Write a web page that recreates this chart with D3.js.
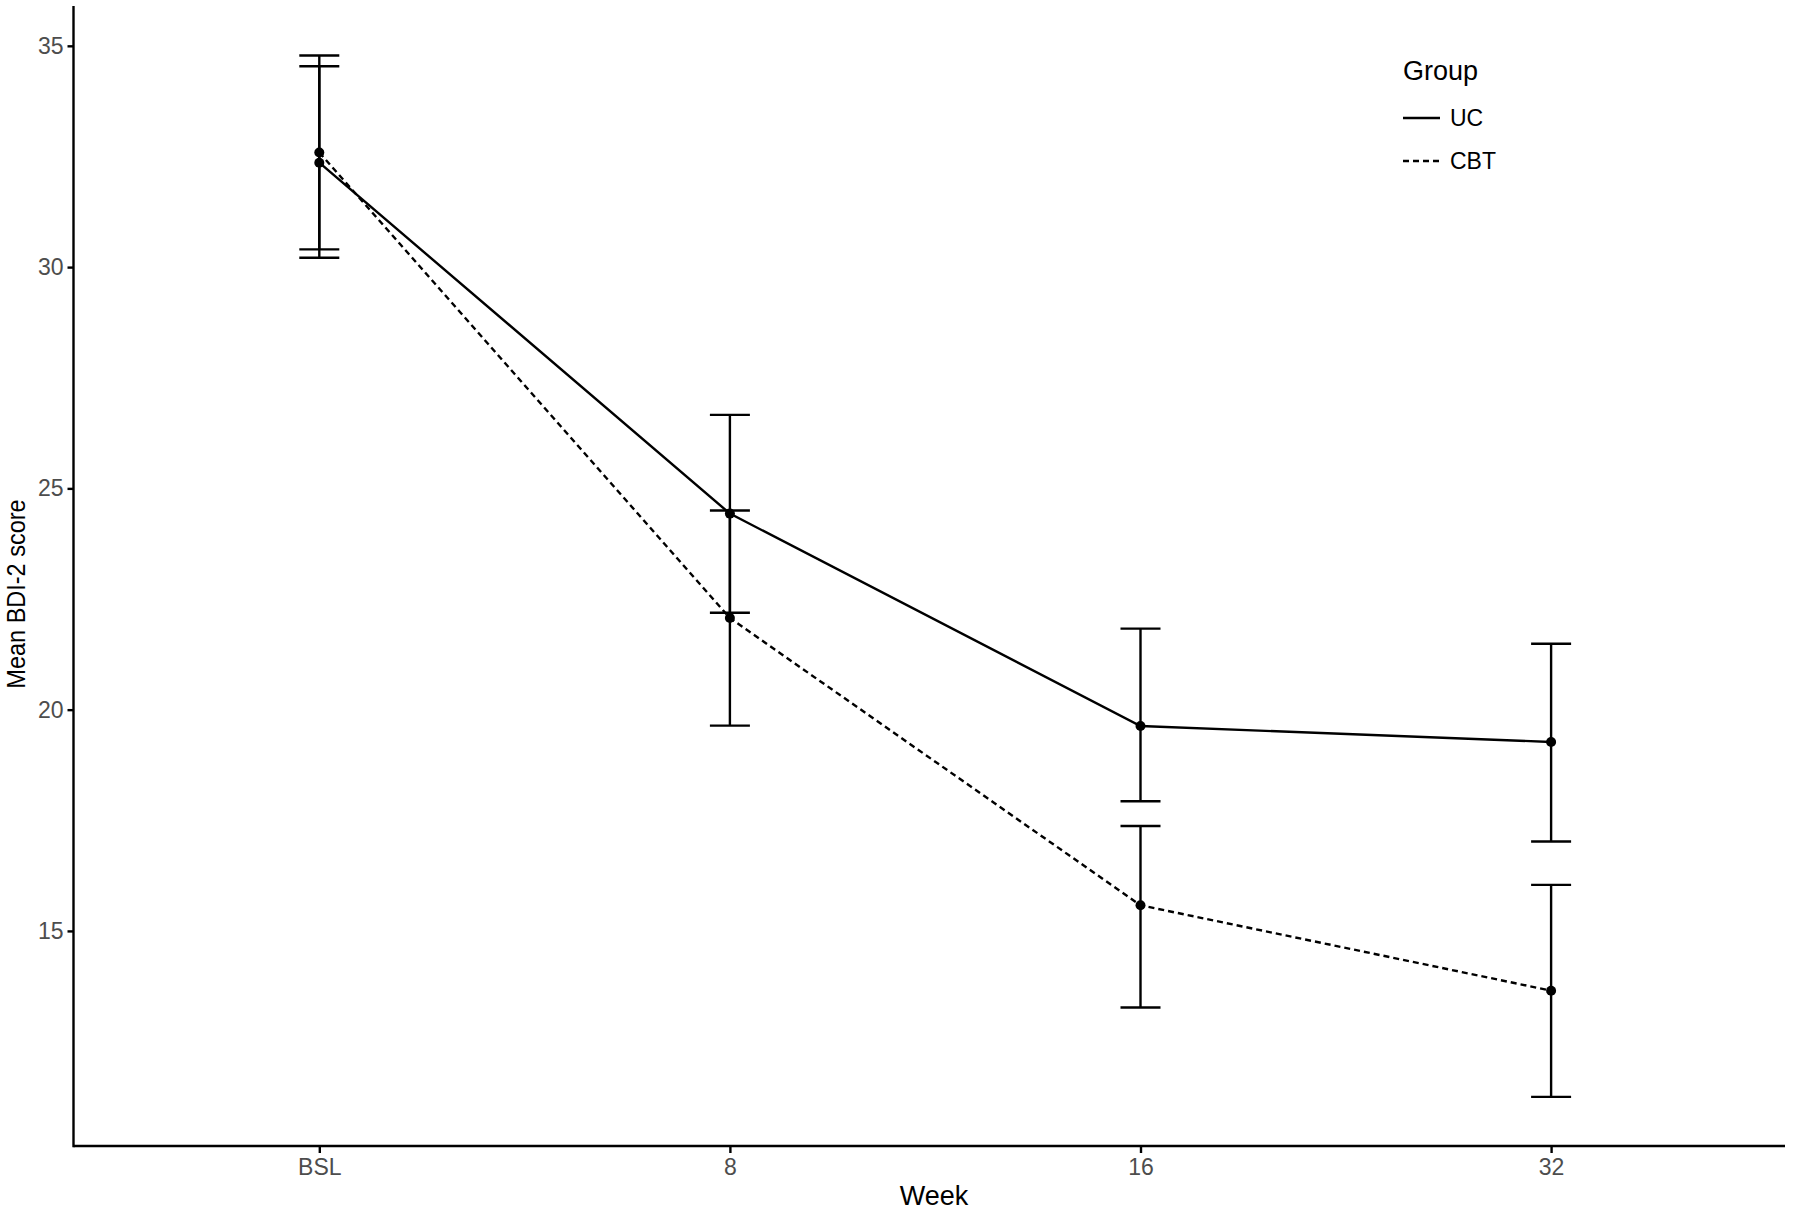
<!DOCTYPE html>
<html>
<head>
<meta charset="utf-8">
<script src="https://cdn.jsdelivr.net/npm/d3@7"></script>
<style>
  html, body { margin: 0; padding: 0; background: #fff; }
  svg { display: block; }
  text { font-family: "Liberation Sans", Arial, sans-serif; }
</style>
</head>
<body>
<svg id="chart" width="1800" height="1213"></svg>
<script>
// ---- Data ----
const weeks = ["BSL", "8", "16", "32"];
const groups = ["UC", "CBT"];
const ucMean  = [32.36, 24.43, 19.63, 19.27];
const ucLower = [30.21, 22.19, 17.93, 17.02];
const ucUpper = [34.54, 26.66, 21.83, 21.49];
const cbtMean  = [32.59, 22.07, 15.58, 13.65];
const cbtLower = [30.40, 19.64, 13.27, 11.25];
const cbtUpper = [34.78, 24.50, 17.37, 16.04];
const yTicks = [15, 20, 25, 30, 35];

const series = [
  { name: groups[0], mean: ucMean, lo: ucLower, hi: ucUpper, dash: null },
  { name: groups[1], mean: cbtMean, lo: cbtLower, hi: cbtUpper, dash: "6,4" }
];

// ---- Layout ----
const panel = { left: 73.5, right: 1785, top: 6, bottom: 1146 };
const svg = d3.select("#chart");

const x = d3.scalePoint().domain(weeks).range([319.3, 1551.1]).padding(0);
const y = d3.scaleLinear().domain([10.14, 35.9]).range([panel.bottom, panel.top]);

const LW = 2.4;

// ---- Axes ----
const xAxis = svg.append("g")
  .attr("transform", `translate(0,${panel.bottom})`)
  .call(d3.axisBottom(x).tickSize(7).tickPadding(6).tickSizeOuter(0));
const yAxis = svg.append("g")
  .attr("transform", `translate(${panel.left},0)`)
  .call(d3.axisLeft(y).tickValues(yTicks).tickSize(6).tickPadding(4).tickSizeOuter(0));

[xAxis, yAxis].forEach(g => {
  g.select(".domain").remove();
  g.selectAll(".tick line").attr("stroke", "#000").attr("stroke-width", LW);
  g.selectAll(".tick text").attr("fill", "#4d4d4d").style("font-size", "23px")
    .style("font-family", "'Liberation Sans', Arial, sans-serif");
});
// axis lines spanning the whole panel
svg.append("line")
  .attr("x1", panel.left).attr("x2", panel.right)
  .attr("y1", panel.bottom).attr("y2", panel.bottom)
  .attr("stroke", "#000").attr("stroke-width", LW);
svg.append("line")
  .attr("x1", panel.left).attr("x2", panel.left)
  .attr("y1", panel.top).attr("y2", panel.bottom + LW / 2)
  .attr("stroke", "#000").attr("stroke-width", LW);

// Axis titles
svg.append("text")
  .attr("x", 934)
  .attr("y", 1205)
  .attr("text-anchor", "middle")
  .style("font-size", "27px")
  .attr("fill", "#000")
  .text("Week");

svg.append("text")
  .attr("transform", `translate(25,594) rotate(-90) scale(1,1.12)`)
  .attr("text-anchor", "middle")
  .style("font-size", "23.5px")
  .attr("fill", "#000")
  .text("Mean BDI-2 score");

// ---- Lines ----
const line = d3.line().x((d, i) => x(weeks[i])).y(d => y(d));
const plot = svg.append("g");

series.forEach(s => {
  plot.append("path")
    .datum(s.mean)
    .attr("d", line)
    .attr("fill", "none")
    .attr("stroke", "#000")
    .attr("stroke-width", LW)
    .attr("stroke-dasharray", s.dash);
});

// ---- Error bars ----
const capHalf = 20;
series.forEach(s => {
  const g = plot.append("g");
  weeks.forEach((w, i) => {
    const cx = x(w);
    g.append("line").attr("x1", cx).attr("x2", cx)
      .attr("y1", y(s.lo[i])).attr("y2", y(s.hi[i]))
      .attr("stroke", "#000").attr("stroke-width", LW);
    g.append("line").attr("x1", cx - capHalf).attr("x2", cx + capHalf)
      .attr("y1", y(s.lo[i])).attr("y2", y(s.lo[i]))
      .attr("stroke", "#000").attr("stroke-width", LW);
    g.append("line").attr("x1", cx - capHalf).attr("x2", cx + capHalf)
      .attr("y1", y(s.hi[i])).attr("y2", y(s.hi[i]))
      .attr("stroke", "#000").attr("stroke-width", LW);
  });
});

// ---- Points ----
series.forEach(s => {
  plot.selectAll(null)
    .data(s.mean)
    .enter().append("circle")
    .attr("cx", (d, i) => x(weeks[i]))
    .attr("cy", d => y(d))
    .attr("r", 5)
    .attr("fill", "#000");
});

// ---- Legend ----
const legend = svg.append("g");
legend.append("text")
  .attr("x", 1403).attr("y", 80)
  .style("font-size", "27px")
  .attr("fill", "#000")
  .text("Group");
const keyY = [118, 161];
series.forEach((s, i) => {
  legend.append("line")
    .attr("x1", 1403).attr("x2", 1440)
    .attr("y1", keyY[i]).attr("y2", keyY[i])
    .attr("stroke", "#000").attr("stroke-width", LW)
    .attr("stroke-dasharray", s.dash);
  legend.append("text")
    .attr("x", 1450).attr("y", keyY[i] + 8)
    .style("font-size", "23px")
    .attr("fill", "#000")
    .text(s.name);
});
</script>
</body>
</html>
